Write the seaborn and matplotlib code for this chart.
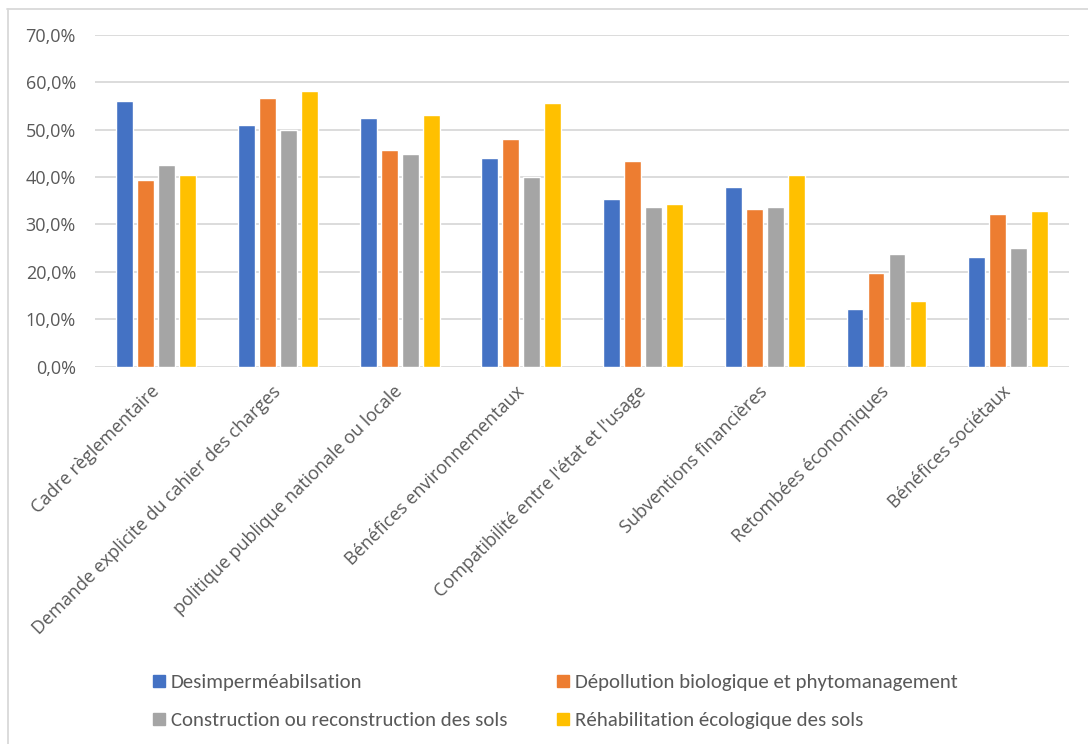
import pandas as pd
import numpy as np
import matplotlib
matplotlib.use('Agg')
import matplotlib.pyplot as plt
from matplotlib.lines import Line2D
import seaborn as sns

# Data (percent)
categories = ['Cadre règlementaire', 'Demande explicite du cahier des charges',
              'politique publique nationale ou locale', 'Bénéfices environnementaux',
              "Compatibilité entre l'état et l'usage", 'Subventions financières',
              'Retombées économiques', 'Bénéfices sociétaux']
series = ['Desimperméabilsation', 'Dépollution biologique et phytomanagement',
          'Construction ou reconstruction des sols', 'Réhabilitation écologique des sols']
desimper = [56.0, 51.0, 52.4, 44.0, 35.4, 37.8, 12.2, 23.1]
depollution = [39.4, 56.7, 45.6, 48.0, 43.3, 33.3, 19.8, 32.2]
construction = [42.5, 49.9, 44.9, 40.0, 33.7, 33.7, 23.8, 25.0]
rehab = [40.4, 58.1, 53.1, 55.6, 34.3, 40.4, 13.9, 32.8]
colors = ['#4472C4', '#ED7D31', '#A5A5A5', '#FFC000']

df = pd.DataFrame({'categorie': categories * 4,
                   'serie': np.repeat(series, len(categories)),
                   'valeur': desimper + depollution + construction + rehab})

sns.set_style('white')
plt.rcParams['font.family'] = ['Open Sans', 'DejaVu Sans']

fig = plt.figure(figsize=(10.88, 7.44), dpi=100)
ax = fig.add_axes([0.0877, 0.507, 0.8948, 0.4464])

sns.barplot(data=df, x='categorie', y='valeur', hue='serie', order=categories,
            hue_order=series, palette=colors, width=0.69, gap=0.2,
            saturation=1, ax=ax, legend=False)

ax.set_ylim(0, 70)
ax.set_xlim(-0.5, len(categories) - 0.5)
ax.set_yticks(np.arange(0, 71, 10))
ax.set_yticklabels([f'{v},0%' for v in range(0, 71, 10)])
ax.yaxis.grid(True, color='#D9D9D9', linewidth=1.3)
ax.set_axisbelow(True)
for s in ax.spines.values():
    s.set_visible(False)
ax.set_xlabel('')
ax.set_ylabel('')
ax.tick_params(axis='y', length=0, pad=14, labelsize=13, labelcolor='#595959')
ax.tick_params(axis='x', length=0, pad=16, labelsize=13, labelcolor='#595959')
plt.setp(ax.get_xticklabels(), rotation=45, ha='right', va='center',
         rotation_mode='anchor')

# legend, filled column-wise so rows read as in the original
handles = [Line2D([], [], marker='s', linestyle='', markersize=8.5,
                  markerfacecolor=c, markeredgecolor=c) for c in colors]
order = [0, 2, 1, 3]
leg = fig.legend([handles[i] for i in order], [series[i] for i in order],
                 loc='upper left', bbox_to_anchor=(0.131, 0.109), ncol=2,
                 frameon=False, borderpad=0, handlelength=0.6, handletextpad=0.25,
                 columnspacing=2.4, labelspacing=1.0,
                 prop={'family': ['Carlito', 'DejaVu Sans'], 'size': 15})
for t in leg.get_texts():
    t.set_color('#595959')

# chart frame (top and left edges only, as in the reference)
fig.add_artist(Line2D([7 / 1088, 1], [1 - 9 / 744, 1 - 9 / 744],
                      color='#D9D9D9', linewidth=1.3, transform=fig.transFigure))
fig.add_artist(Line2D([8 / 1088, 8 / 1088], [1 - 9 / 744, 0],
                      color='#D9D9D9', linewidth=1.3, transform=fig.transFigure))

fig.savefig('out.png', dpi=100)
